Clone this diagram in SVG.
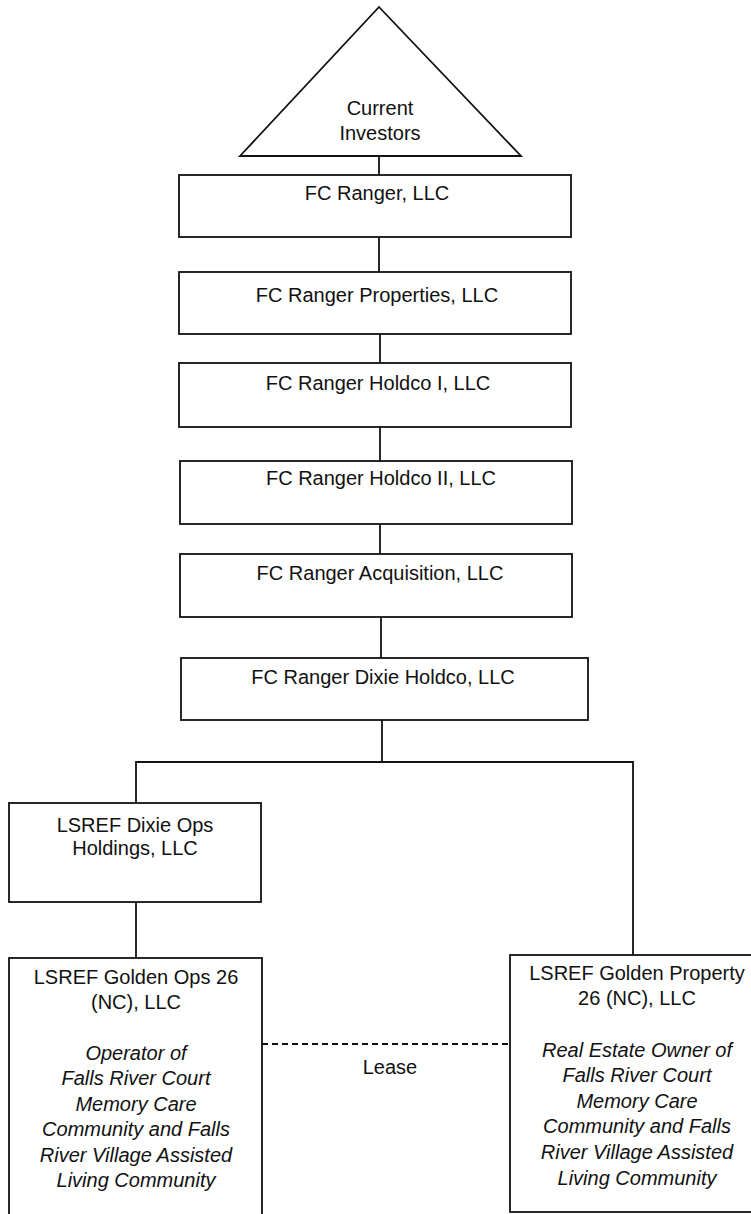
<svg xmlns="http://www.w3.org/2000/svg" width="751" height="1214" viewBox="0 0 751 1214">
<style>
.b{fill:#fff;stroke:#111;stroke-width:1.8}
.c{stroke:#111;stroke-width:1.8;fill:none}
.t{font-family:"Liberation Sans",Arial,sans-serif;font-size:20px;fill:#111;text-anchor:middle}
.i{font-style:italic}
</style>
<rect width="751" height="1214" fill="#fff"/>
<g id="connectors">
<line class="c" x1="379" y1="156" x2="379" y2="175"/>
<line class="c" x1="379" y1="237" x2="379" y2="272"/>
<line class="c" x1="380" y1="334" x2="380" y2="363"/>
<line class="c" x1="380" y1="427" x2="380" y2="461"/>
<line class="c" x1="380" y1="524" x2="380" y2="554"/>
<line class="c" x1="381" y1="617" x2="381" y2="658"/>
<line class="c" x1="382" y1="720" x2="382" y2="762"/>
<polyline class="c" points="136,803 136,762 633,762 633,955"/>
<line class="c" x1="136" y1="902" x2="136" y2="958"/>
<line class="c" x1="262" y1="1044" x2="510" y2="1044" stroke-dasharray="6,4"/>
<text class="t" x="390" y="1074">Lease</text>
</g>
<g id="investors">
<polygon class="b" points="379,7 521,156 240,156"/>
<text class="t" x="380" y="115">Current</text>
<text class="t" x="380" y="140">Investors</text>
</g>
<g id="fc-ranger">
<rect class="b" x="179" y="175" width="392" height="62"/>
<text class="t" x="377" y="200">FC Ranger, LLC</text>
</g>
<g id="fc-ranger-properties">
<rect class="b" x="179" y="272" width="392" height="62"/>
<text class="t" x="377" y="302">FC Ranger Properties, LLC</text>
</g>
<g id="fc-ranger-holdco-i">
<rect class="b" x="179" y="363" width="392" height="64"/>
<text class="t" x="378" y="390">FC Ranger Holdco I, LLC</text>
</g>
<g id="fc-ranger-holdco-ii">
<rect class="b" x="180" y="461" width="392" height="63"/>
<text class="t" x="381" y="485">FC Ranger Holdco II, LLC</text>
</g>
<g id="fc-ranger-acquisition">
<rect class="b" x="180" y="554" width="392" height="63"/>
<text class="t" x="380" y="580">FC Ranger Acquisition, LLC</text>
</g>
<g id="fc-ranger-dixie-holdco">
<rect class="b" x="181" y="658" width="407" height="62"/>
<text class="t" x="383" y="684">FC Ranger Dixie Holdco, LLC</text>
</g>
<g id="lsref-dixie-ops">
<rect class="b" x="9" y="803" width="252" height="99"/>
<text class="t" x="135" y="832">LSREF Dixie Ops</text>
<text class="t" x="135" y="855">Holdings, LLC</text>
</g>
<g id="lsref-golden-ops">
<rect class="b" x="9" y="958" width="253" height="262"/>
<text class="t" x="136" y="984">LSREF Golden Ops 26</text>
<text class="t" x="136" y="1009">(NC), LLC</text>
<text class="t i" x="136" y="1060">Operator of</text>
<text class="t i" x="136" y="1085">Falls River Court</text>
<text class="t i" x="136" y="1111">Memory Care</text>
<text class="t i" x="136" y="1136">Community and Falls</text>
<text class="t i" x="136" y="1162">River Village Assisted</text>
<text class="t i" x="136" y="1187">Living Community</text>
</g>
<g id="lsref-golden-property">
<rect class="b" x="510" y="955" width="245" height="257"/>
<text class="t" x="637" y="980">LSREF Golden Property</text>
<text class="t" x="637" y="1005">26 (NC), LLC</text>
<text class="t i" x="637" y="1057">Real Estate Owner of</text>
<text class="t i" x="637" y="1082">Falls River Court</text>
<text class="t i" x="637" y="1108">Memory Care</text>
<text class="t i" x="637" y="1133">Community and Falls</text>
<text class="t i" x="637" y="1159">River Village Assisted</text>
<text class="t i" x="637" y="1185">Living Community</text>
</g>
</svg>
